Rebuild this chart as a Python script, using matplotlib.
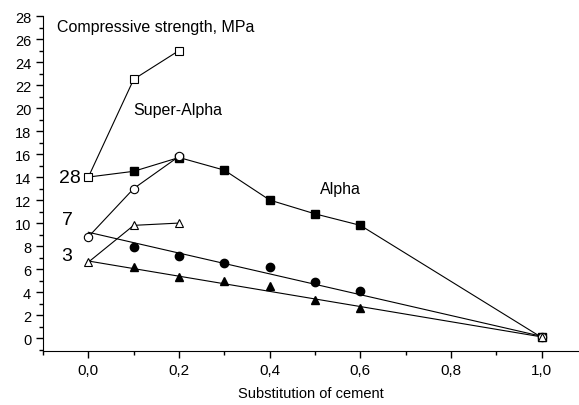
import matplotlib
matplotlib.use("Agg")
import matplotlib.pyplot as plt
from matplotlib.ticker import MultipleLocator, FuncFormatter

plt.rcParams['font.family'] = ['Liberation Sans', 'DejaVu Sans']

# ---- Super-Alpha (open markers) ----
sa_x = [0.0, 0.1, 0.2]
sa_28 = [14.0, 22.5, 25.0]
sa_7 = [8.8, 13.0, 15.8]
sa_3 = [6.6, 9.8, 10.0]

# ---- Alpha (filled markers) ----
al_x = [0.1, 0.2, 0.3, 0.4, 0.5, 0.6]
al_28 = [14.5, 15.7, 14.6, 12.0, 10.8, 9.8]
al_7 = [7.9, 7.1, 6.5, 6.2, 4.9, 4.1]
al_3 = [6.2, 5.35, 4.95, 4.55, 3.3, 2.6]

# pure substitution point
end_x = 1.0
end_y = 0.05

# 28-day alpha line: from reference at 0 through alpha points to 1.0
line28_x = [0.0] + al_x + [end_x]
line28_y = [14.0] + al_28 + [end_y]

# trend lines for 7 and 3 days
fit7_x = [0.0, 1.0]
fit7_y = [9.2, 0.15]
fit3_x = [0.0, 1.0]
fit3_y = [6.7, 0.1]

fig = plt.figure(figsize=(5.79, 4.06), dpi=100)
ax = fig.add_axes([0.0743, 0.1337, 0.924, 0.8243])

lw = 0.8
ax.plot(line28_x, line28_y, '-', color='black', lw=lw, zorder=2)
ax.plot(fit7_x, fit7_y, '-', color='black', lw=lw, zorder=2)
ax.plot(fit3_x, fit3_y, '-', color='black', lw=lw, zorder=2)
ax.plot(sa_x, sa_28, '-', color='black', lw=lw, zorder=2)
ax.plot(sa_x, sa_7, '-', color='black', lw=lw, zorder=2)
ax.plot(sa_x, sa_3, '-', color='black', lw=lw, zorder=2)

ms = 5.6
ax.plot(al_x + [end_x], al_28 + [end_y], 's', color='black', ms=ms, zorder=3)
ax.plot(al_x, al_7, 'o', color='black', ms=ms + 0.4, zorder=3)
ax.plot(al_x, al_3, '^', color='black', ms=ms + 0.4, zorder=3)
ax.plot(sa_x, sa_28, 's', mfc='white', mec='black', mew=0.8, ms=ms, zorder=4)
ax.plot(sa_x + [end_x], sa_7 + [end_y], 'o', mfc='white', mec='black', mew=0.8, ms=ms + 0.4, zorder=4)
ax.plot(sa_x + [end_x], sa_3 + [end_y], '^', mfc='white', mec='black', mew=0.8, ms=ms + 0.4, zorder=4)

ax.set_xlim(-0.1, 1.08)
ax.set_ylim(-1.1, 28)

ax.spines['top'].set_visible(False)
ax.spines['right'].set_visible(False)
ax.spines['left'].set_bounds(-1.1, 28)

ax.xaxis.set_major_locator(MultipleLocator(0.2))
ax.xaxis.set_minor_locator(MultipleLocator(0.1))
ax.yaxis.set_major_locator(MultipleLocator(2))
ax.yaxis.set_minor_locator(MultipleLocator(1))
ax.xaxis.set_major_formatter(FuncFormatter(lambda v, p: f"{v:.1f}".replace('.', ',')))
ax.tick_params(which='major', direction='out', length=5, width=1, labelsize=10.5)
ax.tick_params(axis='x', which='major', labelsize=11, pad=4)
ax.tick_params(which='minor', direction='out', length=3, width=1)

ax.set_xlabel("Substitution of cement", fontsize=10.5, labelpad=6)

ax.text(0.027, 0.99, "Compressive strength, MPa", transform=ax.transAxes,
        fontsize=11.5, va='top', ha='left')
ax.text(0.098, 19.9, "Super-Alpha", fontsize=11.5, va='center', ha='left')
ax.text(0.51, 13.0, "Alpha", fontsize=11.5, va='center', ha='left')
ax.text(-0.017, 14.0, "28", fontsize=14, va='center', ha='right')
ax.text(-0.035, 10.3, "7", fontsize=14, va='center', ha='right')
ax.text(-0.035, 7.2, "3", fontsize=14, va='center', ha='right')

fig.savefig("out.png", dpi=100)
